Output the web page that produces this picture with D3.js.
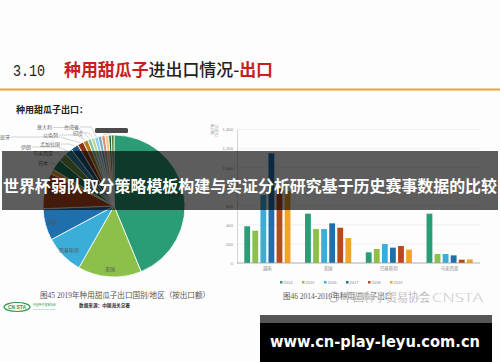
<!DOCTYPE html>
<html><head><meta charset="utf-8">
<script src="https://cdn.jsdelivr.net/npm/d3@7"></script>
<style>body{margin:0;background:#fdfdfd}svg{display:block}</style>
</head><body>
<svg id="c" width="500" height="362"></svg>
<script>
// ---------- data ----------
const pieLabels = ["越南","美国","巴基斯坦","印尼","泰国","土耳其","日本","马来西亚","伊朗","孟加拉国","西班牙","以色列","意大利","印度","台湾省","其他1","其他2","其他3","其他4","其他5"];
const pieValues = [43.6,14.4,8.9,7.2,8.1,1.1,2.5,1.9,1.7,1.7,1.4,1.1,0.8,0.8,0.8,0.8,0.8,0.8,0.6,0.6];
const barCategories = ["越南","美国","巴基斯坦","马来西亚"];
const years = ["2014","2015","2016","2017","2018","2019"];
const s2014 = [385,517,112,517];
const s2015 = [339,356,147,94];
const s2016 = [713,356,199,94];
const s2017 = [1150,416,161,80];
const s2018 = [783,370,178,35];
const s2019 = [755,262,140,38];
const yTicks = [0,200,400,600,800,1000,1200,1400];

const series = [s2014,s2015,s2016,s2017,s2018,s2019];
const baseColors = ["#2a9d76","#8cc04a","#3aaed8","#1f6fad","#b8491c","#f0a526"];
const pieColors = baseColors
  .concat(baseColors.map(c=>d3.color(c).darker(0.75).formatHex()))
  .concat(baseColors.map(c=>d3.interpolateRgb(c,"#fff")(0.4)))
  .concat(baseColors.map(c=>d3.color(c).darker(1.3).formatHex()));

const svg = d3.select("#c");
const CJK = "'Noto Sans CJK SC','Noto Sans',sans-serif";
const SERIF = "'Liberation Serif','Noto Sans CJK SC',serif";

// ---------- title ----------
svg.append("text").attr("x",13).attr("y",76).attr("font-family","'Liberation Mono',monospace")
  .attr("font-size",16).attr("fill","#222").attr("textLength",32).attr("lengthAdjust","spacingAndGlyphs").text("3.10");
const tt = svg.append("text").attr("x",64).attr("y",76).attr("font-family",CJK).attr("font-size",17)
  .attr("font-weight",500).attr("textLength",209).attr("lengthAdjust","spacingAndGlyphs");
tt.append("tspan").attr("fill","#c8201e").attr("font-weight",700).text("种用甜瓜子");
tt.append("tspan").attr("fill","#222").text("进出口情况-");
tt.append("tspan").attr("fill","#c8201e").attr("font-weight",700).text("出口");
svg.append("line").attr("x1",0).attr("x2",500).attr("y1",89.5).attr("y2",89.5)
  .attr("stroke","#e9a23b").attr("stroke-width",2);
svg.append("text").attr("x",16).attr("y",113).attr("font-family",CJK).attr("font-size",9)
  .attr("font-weight",700).attr("fill","#222").attr("textLength",72).attr("lengthAdjust","spacingAndGlyphs")
  .text("种用甜瓜子出口：");

// ---------- pie ----------
const cx = 114, cy = 206, R = 71;
const pie = d3.pie().sort(null).value(d=>d)(pieValues);
const arc = d3.arc().innerRadius(0).outerRadius(R);
const gp = svg.append("g").attr("transform",`translate(${cx},${cy})`);
gp.selectAll("path").data(pie).join("path").attr("d",arc)
  .attr("fill",(d,i)=>pieColors[i % pieColors.length]).attr("stroke","#fff").attr("stroke-width",0.8);
const inArc = d3.arc().innerRadius(63).outerRadius(63);
gp.selectAll("text.in").data(pie.slice(0,5)).join("text").attr("class","in")
  .attr("transform",d=>`translate(${inArc.centroid(d)})`).attr("text-anchor","middle").attr("dy","0.35em")
  .attr("font-family",CJK).attr("font-size",5).attr("fill","#555").text((d,i)=>pieLabels[i]);
// outside labels (label anchor positions, layout only)
const outside = [
  {i:6, lx:38, ly:163},
  {i:7, lx:33, ly:153},
  {i:8, lx:21, ly:147},
  {i:9, lx:40, ly:144},
  {i:10, lx:-5, ly:137},
  {i:11, lx:43, ly:135},
  {i:12, lx:37, ly:127.5},
  {i:13, lx:73, ly:133},
  {i:14, lx:64, ly:127}
];
const edgeArc = d3.arc().innerRadius(R+1).outerRadius(R+1);
const lw = 5;
outside.forEach(o=>{
  const d = pie[o.i];
  const [ex,ey] = edgeArc.centroid(d);
  const name = pieLabels[o.i];
  const tw = name.length*lw;
  const sx = o.lx + tw + 1, sy = o.ly;
  svg.append("polyline").attr("points",`${sx},${sy} ${Math.min(cx+ex-4, sx+ (cx+ex - sx)*0.7)},${sy} ${cx+ex},${cy+ey}`)
    .attr("fill","none").attr("stroke","#aaa").attr("stroke-width",0.5);
  svg.append("text").attr("x",o.lx).attr("y",o.ly).attr("dy","0.35em").attr("font-family",CJK)
    .attr("font-size",lw).attr("fill","#666").text(name);
});
// redacted label box
svg.append("rect").attr("x",95).attr("y",128).attr("width",33).attr("height",5).attr("rx",1.5).attr("fill","#4a4a4a");
{
  const d = pie[16]; const [ex,ey] = edgeArc.centroid(d);
  svg.append("line").attr("x1",111).attr("y1",133).attr("x2",cx+ex).attr("y2",cy+ey).attr("stroke","#aaa").attr("stroke-width",0.5);
}

// ---------- bar chart ----------
const x0 = d3.scaleBand().domain(barCategories).range([237,480]).paddingInner(0.24).paddingOuter(0.12);
const x1 = d3.scaleBand().domain(years).range([0,x0.bandwidth()]).paddingInner(0.28);
const y = d3.scaleLinear().domain([0,1400]).range([263,129.5]);
const gb = svg.append("g");
gb.selectAll("line.grid").data(yTicks.slice(1)).join("line").attr("class","grid")
  .attr("x1",237).attr("x2",480).attr("y1",d=>y(d)).attr("y2",d=>y(d)).attr("stroke","#e6e6e6").attr("stroke-width",0.6);
const yAxis = d3.axisLeft(y).tickValues(yTicks).tickSize(0).tickPadding(4).tickFormat(d3.format(","));
const ya = gb.append("g").attr("transform","translate(237,0)").call(yAxis);
ya.select(".domain").attr("stroke","#bbb").attr("stroke-width",0.6);
ya.selectAll("text").attr("font-family","'Liberation Sans',sans-serif").attr("font-size",4.2).attr("fill","#888");
years.forEach((yr,k)=>{
  gb.selectAll(null).data(series[k]).join("rect")
    .attr("x",(d,i)=>x0(barCategories[i])+x1(yr)).attr("width",x1.bandwidth())
    .attr("y",d=>y(d)).attr("height",d=>y(0)-y(d)).attr("fill",baseColors[k]);
});
const xAxis = d3.axisBottom(x0).tickSize(0).tickPadding(4);
const xa = gb.append("g").attr("transform","translate(0,263)").call(xAxis);
xa.select(".domain").attr("d","M237,0H480").attr("stroke","#999").attr("stroke-width",0.8);
xa.selectAll("text").attr("font-family",CJK).attr("font-size",4.5).attr("fill","#888");
// y title (vertical, tiny)
svg.append("text").attr("transform","translate(211,124) rotate(90)").attr("font-family",CJK)
  .attr("font-size",3.5).attr("fill","#999").text("出口额");
svg.append("text").attr("transform","translate(215,124) rotate(90)").attr("font-family",CJK)
  .attr("font-size",3.5).attr("fill","#999").text("(万美元)");
// legend
const lg = svg.append("g");
years.forEach((yr,k)=>{
  const lx = 280 + k*22;
  lg.append("rect").attr("x",lx).attr("y",281).attr("width",2.5).attr("height",2.5).attr("fill",baseColors[k]);
  lg.append("text").attr("x",lx+3.5).attr("y",282.3).attr("dy","0.35em").attr("font-family","'Liberation Sans',sans-serif")
    .attr("font-size",4).attr("fill","#888").text(yr);
});

// ---------- captions ----------
svg.append("text").attr("x",40).attr("y",298).attr("font-family",SERIF).attr("font-size",7.5).attr("fill","#555")
  .attr("textLength",170).attr("lengthAdjust","spacingAndGlyphs").text("图45  2019年种用甜瓜子出口国别/地区（按出口额）");
svg.append("text").attr("x",283).attr("y",299).attr("font-family",SERIF).attr("font-size",7.5).attr("fill","#555")
  .text("图46  2014-2019年种用甜瓜子出口");
// logo
svg.append("ellipse").attr("cx",17).attr("cy",307).attr("rx",13).attr("ry",4.5).attr("fill","none").attr("stroke","#2e9a4a").attr("stroke-width",1.2);
svg.append("text").attr("x",17).attr("y",307).attr("dy","0.35em").attr("text-anchor","middle").attr("font-family","'Liberation Sans',sans-serif")
  .attr("font-weight",700).attr("font-size",5).attr("fill","#2e9a4a").text("CN STA");
svg.append("text").attr("x",33).attr("y",306).attr("font-family",CJK).attr("font-size",3.5).attr("fill","#2e9a4a")
  .attr("textLength",23).attr("lengthAdjust","spacingAndGlyphs").text("中国种子贸易协会");
svg.append("text").attr("x",33).attr("y",310).attr("font-family","'Liberation Sans',sans-serif").attr("font-size",2).attr("fill","#6a9")
  .attr("textLength",23).attr("lengthAdjust","spacingAndGlyphs").text("China National Seed Trade Association");
svg.append("text").attr("x",79).attr("y",307).attr("font-family",CJK).attr("font-size",5).attr("font-weight",700).attr("fill","#333")
  .attr("textLength",51).attr("lengthAdjust","spacingAndGlyphs").text("数据来源：中国海关总署");
// watermark
const wm = svg.append("g");
wm.append("circle").attr("cx",334).attr("cy",297).attr("r",5).attr("fill","none").attr("stroke","#999").attr("stroke-width",0.8);
const wt = wm.append("text").attr("x",342).attr("y",302).attr("font-size",12).attr("fill","#9a9a9a")
  .attr("stroke","#fff").attr("stroke-width",0.25);
wt.append("tspan").attr("font-family",CJK).attr("textLength",88).attr("lengthAdjust","spacingAndGlyphs").text("中国种子贸易协会");
wt.append("tspan").attr("x",432).attr("font-family","'Open Sans','Lato',sans-serif").attr("font-weight",300).attr("font-size",13)
  .attr("textLength",51).attr("lengthAdjust","spacingAndGlyphs").text("CNSTA");

// ---------- overlays ----------
svg.append("rect").attr("x",2).attr("y",151).attr("width",496).attr("height",59).attr("fill","#000").attr("opacity",0.63);
svg.append("text").attr("x",250).attr("y",186).attr("dy","0.35em").attr("text-anchor","middle").attr("font-family",CJK)
  .attr("font-size",16).attr("font-weight",700).attr("fill","#fff").attr("textLength",494).attr("lengthAdjust","spacingAndGlyphs")
  .text("世界杯弱队取分策略模板构建与实证分析研究基于历史赛事数据的比较");
svg.append("rect").attr("x",260).attr("y",315).attr("width",232).attr("height",8).attr("fill","#555");
svg.append("rect").attr("x",260).attr("y",323).attr("width",232).attr("height",39).attr("fill","#000");
svg.append("text").attr("x",375).attr("y",342).attr("dy","0.35em").attr("text-anchor","middle").attr("font-family","'DejaVu Sans',sans-serif")
  .attr("font-size",15).attr("font-weight",700).attr("fill","#fff").attr("textLength",210).attr("lengthAdjust","spacingAndGlyphs")
  .text("www.cn-play-leyu.com.cn");
</script>
</body></html>
